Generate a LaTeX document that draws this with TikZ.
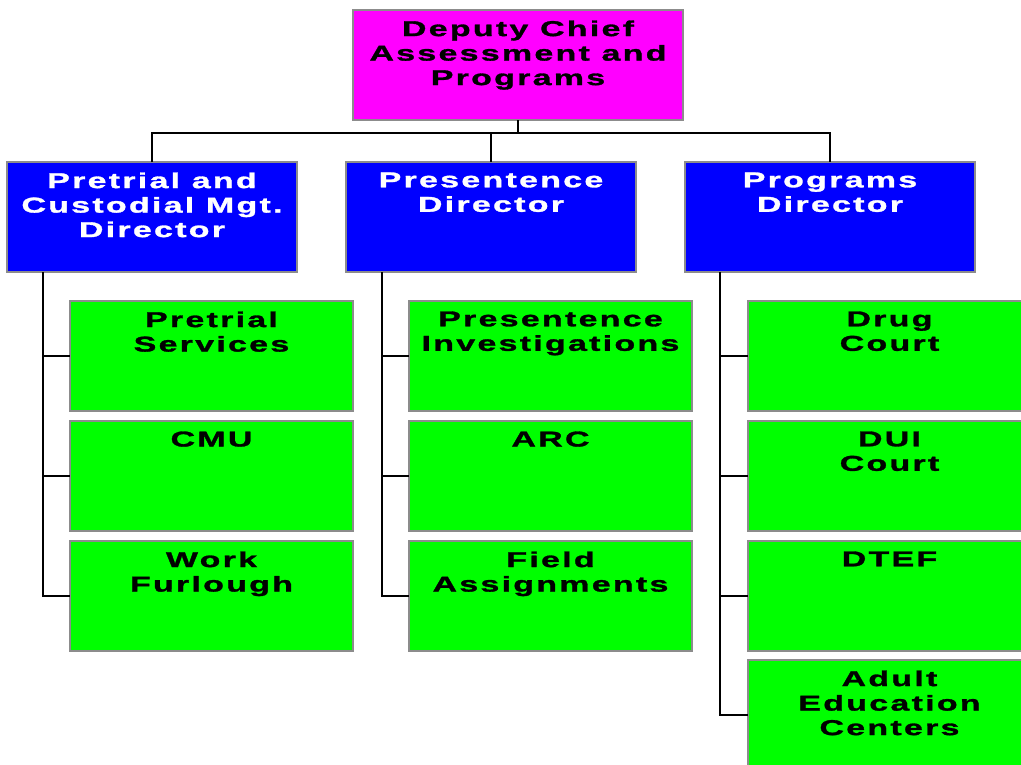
\documentclass[tikz,border=0pt]{standalone}
\usepackage{fontspec}
\newfontfamily\chartfont{Liberation Sans}[FakeStretch=1.58,LetterSpace=10.5,FakeBold=1.4]
\definecolor{boxgray}{HTML}{8C8C8C}
\definecolor{topfill}{HTML}{FF00FF}
\definecolor{midfill}{HTML}{0000FF}
\definecolor{lowfill}{HTML}{00FF00}
\newcommand\bxt[3]{\parbox[t][#2][t]{#1}{\centering\vspace*{10.5pt}\chartfont\bfseries\fontsize{21.5}{24.5}\selectfont #3\par}}
\tikzset{
  box/.style={draw=boxgray, line width=1.5pt, inner sep=0pt, outer sep=0pt, anchor=north west},
  topbox/.style={box, fill=topfill, text=black},
  midbox/.style={box, fill=midfill, text=white},
  lowbox/.style={box, fill=lowfill, text=black},
  conn/.style={draw=black, line width=1.5pt}
}
\begin{document}
\begin{tikzpicture}[x=1pt,y=-1pt]
\clip (0,0) rectangle (1021,764);
\fill[white] (0,0) rectangle (1021,764);
% top
\node[topbox] (top) at (353,10) {\bxt{330pt}{110pt}{Deputy Chief\\Assessment and\\Programs}};
% level 2
\node[midbox] (pa) at (7,162) {\bxt{290pt}{110pt}{Pretrial and\\Custodial Mgt.\\Director}};
\node[midbox] (pb) at (346,162) {\bxt{290pt}{110pt}{Presentence\\Director}};
\node[midbox] (pc) at (685,162) {\bxt{290pt}{110pt}{Programs\\Director}};
% level 3 column 1
\node[lowbox] (a1) at (70,301) {\bxt{283pt}{110pt}{Pretrial\\Services}};
\node[lowbox] (a2) at (70,421) {\bxt{283pt}{110pt}{CMU}};
\node[lowbox] (a3) at (70,541) {\bxt{283pt}{110pt}{Work\\Furlough}};
% column 2
\node[lowbox] (b1) at (409,301) {\bxt{283pt}{110pt}{Presentence\\Investigations}};
\node[lowbox] (b2) at (409,421) {\bxt{283pt}{110pt}{ARC}};
\node[lowbox] (b3) at (409,541) {\bxt{283pt}{110pt}{Field\\Assignments}};
% column 3
\node[lowbox] (c1) at (748,301) {\bxt{283pt}{110pt}{Drug\\Court}};
\node[lowbox] (c2) at (748,421) {\bxt{283pt}{110pt}{DUI\\Court}};
\node[lowbox] (c3) at (748,541) {\bxt{283pt}{110pt}{DTEF}};
\node[lowbox] (c4) at (748,660) {\bxt{283pt}{110pt}{Adult\\Education\\Centers}};
% top connectors
\coordinate (bar) at (518,133);
\draw[conn] (top.south) -- (bar);
\draw[conn] (bar) -| (pa.north);
\draw[conn] (bar) -| (pb.north);
\draw[conn] (bar) -| (pc.north);
% spines
\coordinate (sa) at (43,272);
\coordinate (sb) at (382,272);
\coordinate (sc) at (720,272);
\draw[conn] (sa) |- (a3.west);
\draw[conn] (sa |- a1.west) -- (a1.west);
\draw[conn] (sa |- a2.west) -- (a2.west);
\draw[conn] (sb) |- (b3.west);
\draw[conn] (sb |- b1.west) -- (b1.west);
\draw[conn] (sb |- b2.west) -- (b2.west);
\draw[conn] (sc) |- (c4.west);
\draw[conn] (sc |- c1.west) -- (c1.west);
\draw[conn] (sc |- c2.west) -- (c2.west);
\draw[conn] (sc |- c3.west) -- (c3.west);
\end{tikzpicture}
\end{document}
